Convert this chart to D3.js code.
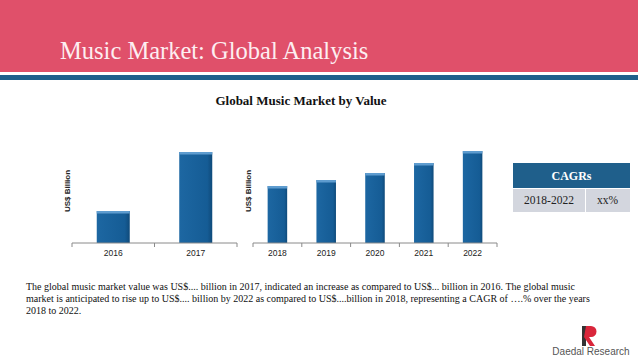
<!DOCTYPE html>
<html><head><meta charset="utf-8">
<script src="https://cdn.jsdelivr.net/npm/d3@7/dist/d3.min.js"></script>
<style>html,body{margin:0;padding:0;background:#fff;}svg{display:block;}</style>
</head><body>
<script>
const histYears = ["2016", "2017"];
const histValues = [32, 91];
const fcstYears = ["2018", "2019", "2020", "2021", "2022"];
const fcstValues = [57, 63, 70, 80, 92];
const cagrPeriod = "2018-2022";
const cagrValue = "xx%";

const W = 638, H = 359;
const svg = d3.select("body").append("svg").attr("width", W).attr("height", H);
const serif = "'Liberation Serif','DejaVu Serif',serif";
const sans = "'Liberation Sans','DejaVu Sans',sans-serif";

const defs = svg.append("defs");
const g = defs.append("linearGradient").attr("id","barg").attr("x1","0").attr("x2","1");
g.append("stop").attr("offset","0").attr("stop-color","#1d67a2");
g.append("stop").attr("offset","0.85").attr("stop-color","#155c95");
g.append("stop").attr("offset","1").attr("stop-color","#0f4a7a");

// header
svg.append("rect").attr("x",0).attr("y",0).attr("width",W).attr("height",72).attr("fill","#e0506a");
svg.append("rect").attr("x",0).attr("y",75).attr("width",W).attr("height",5).attr("fill","#1f5f8c");
svg.append("text").attr("x",60).attr("y",59).attr("fill","#fdeef1")
  .style("font-family",serif).style("font-size","24.5px")
  .text("Music Market: Global Analysis");

svg.append("text").attr("x",301).attr("y",105).attr("text-anchor","middle").attr("fill","#111")
  .style("font-family",serif).style("font-weight","bold").style("font-size","13px")
  .text("Global Music Market by Value");

const y = d3.scaleLinear().domain([0,100]).range([243,143]);

function drawChart(cats, vals, x0, x1, titleX){
  const x = d3.scaleBand().domain(cats).range([x0,x1]).paddingInner(0.6).paddingOuter(0.3);
  const gc = svg.append("g");
  gc.selectAll("rect.bar").data(vals).enter().append("rect").attr("class","bar")
    .attr("x",(d,i)=>x(cats[i])).attr("width",x.bandwidth())
    .attr("y",d=>y(d)).attr("height",d=>y(0)-y(d)).attr("fill","url(#barg)");
  gc.selectAll("rect.cap").data(vals).enter().append("rect").attr("class","cap")
    .attr("x",(d,i)=>x(cats[i])).attr("width",x.bandwidth())
    .attr("y",d=>y(d)).attr("height",2.5).attr("fill","#5e9ccf");
  const xa = d3.scalePoint().domain(d3.range(cats.length+1)).range([x0,x1]);
  const ax = gc.append("g").attr("transform","translate(0,"+y(0)+")");
  ax.append("line").attr("x1",x0).attr("x2",x1).attr("stroke","#8a8a8a").attr("stroke-width",1);
  ax.selectAll("line.t").data(xa.domain()).enter().append("line").attr("class","t")
    .attr("x1",d=>xa(d)).attr("x2",d=>xa(d)).attr("y1",0).attr("y2",4).attr("stroke","#8a8a8a");
  const xl = d3.scaleBand().domain(cats).range([x0,x1]);
  ax.selectAll("text").data(cats).enter().append("text")
    .attr("x",d=>xl(d)+xl.bandwidth()/2).attr("y",13).attr("text-anchor","middle")
    .attr("fill","#222").style("font-family",sans).style("font-size","8.5px").text(d=>d);
  gc.append("text").attr("transform","translate("+titleX+",191) rotate(-90)")
    .attr("text-anchor","middle").attr("fill","#222").style("font-family",sans)
    .style("font-weight","bold").style("font-size","8px").text("US$ Billion");
}
drawChart(histYears, histValues, 72, 237, 70);
drawChart(fcstYears, fcstValues, 253, 497, 251);

// CAGR table
svg.append("rect").attr("x",513).attr("y",163).attr("width",117).attr("height",25).attr("fill","#1f5f8b");
svg.append("rect").attr("x",513).attr("y",189).attr("width",117).attr("height",23).attr("fill","#d3d6de");
svg.append("rect").attr("x",585).attr("y",189).attr("width",1).attr("height",23).attr("fill","#fff");
svg.append("text").attr("x",571.5).attr("y",180).attr("text-anchor","middle").attr("fill","#fff")
  .style("font-family",serif).style("font-weight","bold").style("font-size","12px").text("CAGRs");
svg.append("text").attr("x",549).attr("y",204).attr("text-anchor","middle").attr("fill","#222")
  .style("font-family",serif).style("font-size","11.5px").text(cagrPeriod);
svg.append("text").attr("x",607.5).attr("y",204).attr("text-anchor","middle").attr("fill","#222")
  .style("font-family",serif).style("font-size","11.5px").text(cagrValue);

// paragraph
const para = [
 "The global music market value was US$.... billion in 2017, indicated an increase as compared to US$... billion in 2016. The global music",
 "market is anticipated to rise up to US$.... billion by 2022 as compared to US$....billion in 2018, representing a CAGR of ….% over the years",
 "2018 to 2022."
];
svg.append("g").selectAll("text").data(para).enter().append("text")
  .attr("x",26).attr("y",(d,i)=>290+i*12).attr("fill","#111")
  .style("font-family",serif).style("font-size","10px").text(d=>d);

// logo
const lg = svg.append("g");
lg.append("path").attr("d","M582,326 h4 v20 h-4 z").attr("fill","#333");
lg.append("path").attr("d","M586,326 h5 a5.5,5.5 0 0 1 0,11 h-2 l6,9 h-5 l-6,-9 z").attr("fill","#d9263b");
lg.append("text").attr("x",591).attr("y",355).attr("text-anchor","middle").attr("fill","#555")
  .style("font-family",sans).style("font-size","10px").text("Daedal Research");
</script>
</body></html>
